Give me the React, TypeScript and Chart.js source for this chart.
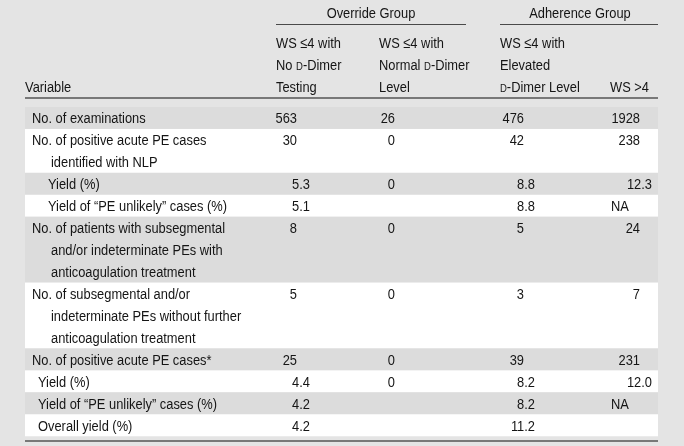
import React, { useEffect, useRef } from "react";
import { Chart, registerables } from "chart.js";

Chart.register(...registerables);

// ---------- DATA ----------
const groupHeaders = ["Override Group", "Adherence Group"];
// "ᴅ" marks a small-capital D (as typeset in the source)
const columnHeaders = [
  ["WS ≤4 with", "No ᴅ-Dimer", "Testing"],
  ["WS ≤4 with", "Normal ᴅ-Dimer", "Level"],
  ["WS ≤4 with", "Elevated", "ᴅ-Dimer Level"],
  ["WS >4"],
];
const variableHeader = "Variable";
const variables = [
  ["No. of examinations"],
  ["No. of positive acute PE cases", "identified with NLP"],
  ["Yield (%)"],
  ["Yield of “PE unlikely” cases (%)"],
  ["No. of patients with subsegmental", "and/or indeterminate PEs with", "anticoagulation treatment"],
  ["No. of subsegmental and/or", "indeterminate PEs without further", "anticoagulation treatment"],
  ["No. of positive acute PE cases*"],
  ["Yield (%)"],
  ["Yield of “PE unlikely” cases (%)"],
  ["Overall yield (%)"],
];
const variableLevel = [0, 0, 1, 1, 0, 0, 0, 2, 2, 2];
const overrideNoDimer = ["563", "30", "5.3", "5.1", "8", "5", "25", "4.4", "4.2", "4.2"];
const overrideNormalDimer = ["26", "0", "0", "", "0", "0", "0", "0", "", ""];
const adherenceElevatedDimer = ["476", "42", "8.8", "8.8", "5", "3", "39", "8.2", "8.2", "11.2"];
const adherenceWsAbove4 = ["1928", "238", "12.3", "NA", "24", "7", "231", "12.0", "NA", ""];

// ---------- LAYOUT / STYLE ----------
const W = 684;
const H = 446;
const FONT = '"Liberation Sans", Arial, sans-serif';
const FS = 15.5;
const SX = 0.83; // horizontal condensing
const TEXT = "#151515";
const BG = "#e4e4e4";
const STRIPE = "#dcdcdc";
const LINE_H = 21.95;

function drawRich(ctx: CanvasRenderingContext2D, text: string, x: number, y: number, align: "left" | "right" | "center", size: number) {
  const parts = text.split(/(ᴅ)/).filter((p) => p.length > 0);
  const small = size * 0.74;
  const widths = parts.map((p) => {
    ctx.font = `${p === "ᴅ" ? small : size}px ${FONT}`;
    return ctx.measureText(p === "ᴅ" ? "D" : p).width * SX;
  });
  const total = widths.reduce((a, b) => a + b, 0);
  let cx = align === "left" ? x : align === "right" ? x - total : x - total / 2;
  ctx.textAlign = "left";
  ctx.textBaseline = "alphabetic";
  parts.forEach((p, i) => {
    ctx.font = `${p === "ᴅ" ? small : size}px ${FONT}`;
    ctx.save();
    ctx.translate(cx, y);
    ctx.scale(SX, 1);
    ctx.fillText(p === "ᴅ" ? "D" : p, 0, 0);
    ctx.restore();
    cx += widths[i];
  });
}

const tablePlugin = {
  id: "tablePlugin",
  beforeDraw(chart: any) {
    const ctx: CanvasRenderingContext2D = chart.ctx;
    const xs = chart.scales.x;
    const ys = chart.scales.y;
    const px = (v: number) => xs.getPixelForValue(v);
    const py = (v: number) => ys.getPixelForValue(v);
    ctx.save();
    ctx.fillStyle = BG;
    ctx.fillRect(px(0), py(0), px(W) - px(0), py(H) - py(0));

    const left = 25;
    const right = 658;
    const base = 5.5; // baseline offset from line center

    // group headers
    ctx.fillStyle = TEXT;
    drawRich(ctx, groupHeaders[0], px(371), py(12 + base), "center", FS);
    drawRich(ctx, groupHeaders[1], px(580), py(12 + base), "center", FS);
    ctx.strokeStyle = "#4a4a4a";
    ctx.lineWidth = 1.2;
    ctx.beginPath();
    ctx.moveTo(px(276), py(24.5));
    ctx.lineTo(px(466), py(24.5));
    ctx.moveTo(px(500), py(24.5));
    ctx.lineTo(px(right), py(24.5));
    ctx.stroke();

    // column headers (bottom aligned)
    const headerX = [276, 379, 500, 610];
    const headerLineCenters = [42, 64, 86];
    columnHeaders.forEach((lines, c) => {
      const off = 3 - lines.length;
      lines.forEach((t, i) => {
        drawRich(ctx, t, px(headerX[c]), py(headerLineCenters[i + off] + base), "left", FS);
      });
    });
    drawRich(ctx, variableHeader, px(left), py(86 + base), "left", FS);

    ctx.strokeStyle = "#555";
    ctx.lineWidth = 1.6;
    ctx.beginPath();
    ctx.moveTo(px(left), py(98));
    ctx.lineTo(px(right), py(98));
    ctx.stroke();

    // rows
    const cols = [overrideNoDimer, overrideNormalDimer, adherenceElevatedDimer, adherenceWsAbove4];
    const intRight = [297, 395, 524, 640];
    const decRight = [310, 406, 535, 652];
    const naLeft = [276, 379, 500, 611];
    let y = 107;
    variables.forEach((lines, r) => {
      const h = lines.length * LINE_H;
      ctx.fillStyle = r % 2 === 0 ? STRIPE : "#ffffff";
      ctx.fillRect(px(left), py(y), px(right) - px(left), py(y + h) - py(y));
      ctx.fillStyle = TEXT;
      const lvl = variableLevel[r];
      lines.forEach((t, i) => {
        const x = lvl === 1 ? 48 : lvl === 2 ? 38 : i === 0 ? 32 : 51;
        drawRich(ctx, t, px(x), py(y + LINE_H * i + LINE_H / 2 + base), "left", FS);
      });
      cols.forEach((col, c) => {
        const v = col[r];
        if (!v) return;
        const cy = py(y + LINE_H / 2 + base);
        if (v === "NA") drawRich(ctx, v, px(naLeft[c]), cy, "left", FS);
        else if (v.includes(".")) drawRich(ctx, v, px(decRight[c]), cy, "right", FS);
        else drawRich(ctx, v, px(intRight[c]), cy, "right", FS);
      });
      y += h;
    });

    ctx.strokeStyle = "#555";
    ctx.lineWidth = 1.6;
    ctx.beginPath();
    ctx.moveTo(px(left), py(441));
    ctx.lineTo(px(right), py(441));
    ctx.stroke();
    ctx.restore();
  },
};

export default function App() {
  const ref = useRef<HTMLCanvasElement>(null);
  useEffect(() => {
    if (!ref.current) return;
    const chart = new Chart(ref.current, {
      type: "scatter",
      data: { datasets: [] },
      options: {
        animation: false,
        responsive: false,
        devicePixelRatio: 1,
        layout: { padding: 0 },
        plugins: { legend: { display: false }, tooltip: { enabled: false } },
        scales: {
          x: { type: "linear", min: 0, max: W, display: false },
          y: { type: "linear", min: 0, max: H, reverse: true, display: false },
        },
      },
      plugins: [tablePlugin],
    });
    return () => chart.destroy();
  }, []);
  return (
    <div style={{ position: "fixed", left: 0, top: 0, width: W, height: H }}>
      <canvas ref={ref} width={W} height={H} style={{ display: "block" }} />
    </div>
  );
}
